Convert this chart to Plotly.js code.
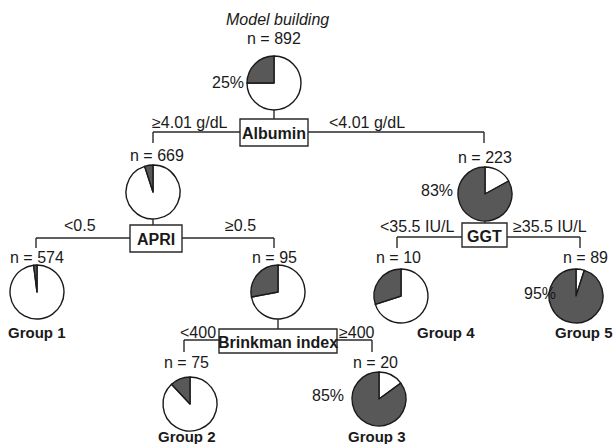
<!DOCTYPE html>
<html>
<head>
<meta charset="utf-8">
<script src="https://cdn.plot.ly/plotly-3.0.1.min.js"></script>
<style>
  html, body { margin: 0; padding: 0; background: #fff; }
  #tree { width: 614px; height: 444px; }
</style>
</head>
<body>
<div id="tree"></div>
<script>
// Node data: sample size and share of positive cases (%) for each node of the tree
const nodeNames = ['root', 'albHigh', 'albLow', 'apriLow', 'apriHigh', 'ggtLow', 'ggtHigh', 'brinkLow', 'brinkHigh'];
const nodeN     = [892, 669, 223, 574, 95, 10, 89, 75, 20];
const nodePct   = [25, 5, 83, 2, 28, 30, 95, 12, 85];
// Nodes whose percentage is printed beside the pie
const pctShown  = [true, false, true, false, false, false, true, false, true];

// Splits: variable and the branch conditions (left, right)
const splitVars   = ['Albumin', 'APRI', 'GGT', 'Brinkman index'];
const branchLeft  = ['≥4.01 g/dL', '<0.5', '<35.5 IU/L', '<400'];
const branchRight = ['<4.01 g/dL', '≥0.5', '≥35.5 IU/L', '≥400'];

// Terminal groups
const groupLabels = ['Group 1', 'Group 2', 'Group 3', 'Group 4', 'Group 5'];
const groupNodes  = ['apriLow', 'brinkLow', 'brinkHigh', 'ggtLow', 'ggtHigh'];

const title = 'Model building';

// ---- Layout geometry (pixels in a 614 x 444 canvas) ----
const W = 614, H = 444, R = 27;
const pieCenter = {
  root: [274, 83], albHigh: [153, 192], albLow: [485, 194],
  apriLow: [37, 292], apriHigh: [278, 292], ggtLow: [401, 296], ggtHigh: [576, 296],
  brinkLow: [190, 404], brinkHigh: [379, 399]
};
const nLabelPos = {
  root: [274, 38], albHigh: [157, 155], albLow: [485, 158],
  apriLow: [37, 257], apriHigh: [274, 257], ggtLow: [398, 257], ggtHigh: [585, 257],
  brinkLow: [186, 362], brinkHigh: [375, 362]
};
const pctLabelPos = {
  root: [228, 82], albLow: [437, 190], ggtHigh: [540, 293], brinkHigh: [328, 395]
};
const groupLabelPos = {
  apriLow: [37, 332], brinkLow: [187, 436], brinkHigh: [377, 436],
  ggtLow: [446, 332], ggtHigh: [584, 332]
};
// split boxes: [x0, y0, x1, y1]
const splitBox = [[240, 119, 308, 146], [130, 225, 182, 252], [462, 223, 507, 247], [219, 329, 337, 353]];
// split bars: [y, xLeft, xRight, yDrop]
const splitBar = [[132, 153, 484, 143], [238, 36, 274, 248], [237, 397, 580, 248], [340, 184, 372, 352]];
// stems from parent pie bottom to box top
const stemParent = ['root', 'albHigh', 'albLow', 'apriHigh'];
const branchLabelPos = [[[190, 122], [367, 122]], [[80, 225], [240, 225]], [[417, 226], [550, 226]], [[198, 332], [357, 332]]];

const px = x => x / W;
const py = y => 1 - y / H;

const FONT = 'Liberation Sans, Arial, Helvetica, sans-serif';
const INK = '#1a1a1a';
const DARK = '#585858';

// ---- Pies: the negative share runs clockwise from 12 o'clock, so the
// positive share closes the circle on the left of 12 o'clock ----
const traces = nodeNames.map((name, i) => {
  const [cx, cy] = pieCenter[name];
  return {
    type: 'pie',
    values: [100 - nodePct[i], nodePct[i]],
    labels: ['negative', 'positive'],
    sort: false,
    direction: 'clockwise',
    rotation: 0,
    textinfo: 'none',
    hoverinfo: 'skip',
    showlegend: false,
    marker: { colors: ['#ffffff', DARK], line: { color: INK, width: 1.4 } },
    domain: { x: [px(cx - R), px(cx + R)], y: [py(cy + R), py(cy - R)] }
  };
});

// ---- Connector lines and boxes ----
const lineStyle = { color: '#2a2a2a', width: 1.4 };
const shapes = [];
splitBar.forEach(([y, xl, xr, yd]) => {
  shapes.push({ type: 'line', xref: 'paper', yref: 'paper', x0: px(xl), x1: px(xr), y0: py(y), y1: py(y), line: lineStyle });
  shapes.push({ type: 'line', xref: 'paper', yref: 'paper', x0: px(xl), x1: px(xl), y0: py(y), y1: py(yd), line: lineStyle });
  shapes.push({ type: 'line', xref: 'paper', yref: 'paper', x0: px(xr), x1: px(xr), y0: py(y), y1: py(yd), line: lineStyle });
});
stemParent.forEach((name, k) => {
  const [cx, cy] = pieCenter[name];
  const boxTop = splitBox[k][1];
  shapes.push({ type: 'line', xref: 'paper', yref: 'paper', x0: px(cx), x1: px(cx), y0: py(cy + R), y1: py(boxTop), line: lineStyle });
});
splitBox.forEach(([x0, y0, x1, y1]) => {
  shapes.push({ type: 'rect', xref: 'paper', yref: 'paper', x0: px(x0), x1: px(x1), y0: py(y1), y1: py(y0),
    fillcolor: '#ffffff', line: { color: '#2a2a2a', width: 1.4 } });
});

// ---- Text ----
const annotations = [];
const txt = (x, y, text, opts = {}) => annotations.push(Object.assign({
  xref: 'paper', yref: 'paper', x: px(x), y: py(y), text: text, showarrow: false,
  xanchor: 'center', yanchor: 'middle', font: { family: FONT, size: 16, color: INK }
}, opts));

txt(277, 19, '<i>' + title + '</i>');
nodeNames.forEach((name, i) => {
  const [x, y] = nLabelPos[name];
  txt(x, y, 'n = ' + nodeN[i]);
  if (pctShown[i]) {
    const [qx, qy] = pctLabelPos[name];
    txt(qx, qy, nodePct[i] + '%');
  }
});
splitVars.forEach((v, k) => {
  const [x0, y0, x1, y1] = splitBox[k];
  txt((x0 + x1) / 2, (y0 + y1) / 2 + 1, '<b>' + v + '</b>');
  txt(branchLabelPos[k][0][0], branchLabelPos[k][0][1], branchLeft[k]);
  txt(branchLabelPos[k][1][0], branchLabelPos[k][1][1], branchRight[k]);
});
groupLabels.forEach((g, j) => {
  const [x, y] = groupLabelPos[groupNodes[j]];
  txt(x, y, '<b>' + g + '</b>', { font: { family: FONT, size: 15, color: INK } });
});

Plotly.newPlot('tree', traces, {
  width: W, height: H,
  margin: { l: 0, r: 0, t: 0, b: 0 },
  paper_bgcolor: '#ffffff',
  plot_bgcolor: '#ffffff',
  shapes: shapes,
  annotations: annotations
}, { staticPlot: true });
</script>
</body>
</html>
